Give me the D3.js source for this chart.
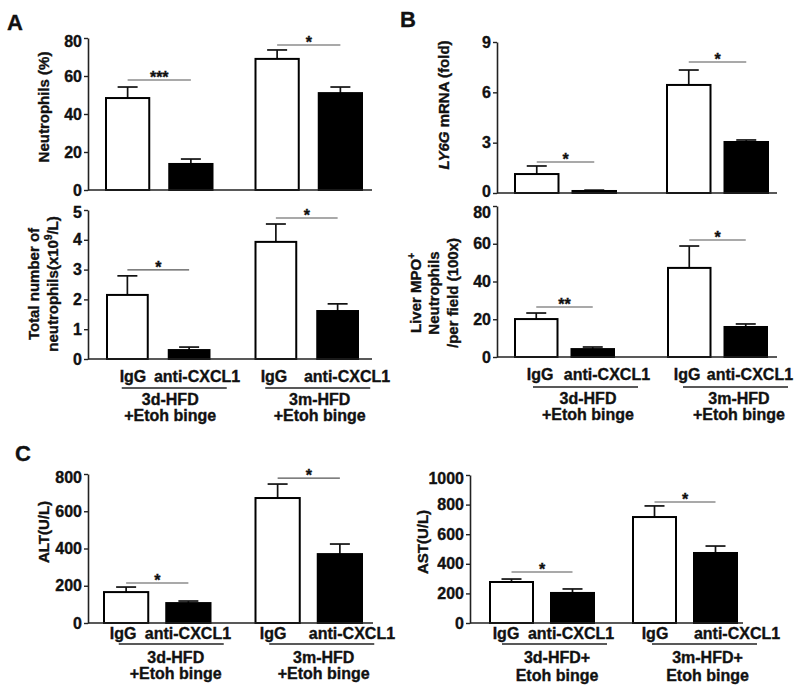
<!DOCTYPE html>
<html>
<head>
<meta charset="utf-8">
<script src="https://cdn.jsdelivr.net/npm/d3@7"></script>
<style>
  html, body { margin: 0; padding: 0; background: #fff; }
  svg { display: block; }
  text { font-family: "Liberation Sans", Arial, Helvetica, sans-serif; font-weight: bold; fill: #111; stroke: #111; stroke-width: 0.35px; }
</style>
</head>
<body>
<svg id="chart" width="800" height="692"></svg>
<script>
// ---------------- DATA ----------------
const conditions = ["IgG", "anti-CXCL1"];
const groupLabelsPlus = [["3d-HFD", "+Etoh binge"], ["3m-HFD", "+Etoh binge"]];
const groupLabelsAST = [["3d-HFD+", "Etoh binge"], ["3m-HFD+", "Etoh binge"]];

// order: [3d IgG, 3d anti-CXCL1, 3m IgG, 3m anti-CXCL1]
const neutroPctMean = [48.4, 13.7, 69.0, 51.0];
const neutroPctSem  = [5.8, 2.6, 4.7, 3.2];
const neutroCntMean = [2.15, 0.30, 3.93, 1.61];
const neutroCntSem  = [0.64, 0.10, 0.60, 0.24];
const ly6gMean = [1.13, 0.12, 6.44, 3.04];
const ly6gSem  = [0.48, 0.05, 0.89, 0.12];
const mpoMean = [20.1, 4.2, 47.2, 15.9];
const mpoSem  = [3.2, 1.1, 11.6, 1.6];
const altMean = [166, 107, 671, 370];
const altSem  = [27, 11, 75, 54];
const astMean = [277, 203, 716, 473];
const astSem  = [20, 27, 75, 47];

// significance markers: [group 3d, group 3m]
const neutroPctSig = ["***", "*"];  const neutroPctSigY = [57.9, 76.3];
const neutroCntSig = ["*", "*"];    const neutroCntSigY = [2.99, 4.73];
const ly6gSig = ["*", "*"];         const ly6gSigY = [1.85, 7.81];
const mpoSig = ["**", "*"];         const mpoSigY = [26.5, 62];
const altSig = ["*", "*"];          const altSigY = [215, 778];
const astSig = ["*", "*"];          const astSigY = [345, 818];

const neutroPctTicks = [0, 20, 40, 60, 80];
const neutroCntTicks = [0, 1, 2, 3, 4, 5];
const ly6gTicks = [0, 3, 6, 9];
const mpoTicks = [0, 20, 40, 60, 80];
const altTicks = [0, 200, 400, 600, 800];
const astTicks = [0, 200, 400, 600, 800, 1000];

// ---------------- LAYOUT ----------------
const svg = d3.select("#chart");

const panels = [
  { mean: neutroPctMean, sem: neutroPctSem, ticks: neutroPctTicks, sig: neutroPctSig, sigY: neutroPctSigY,
    x0: 88, xEnd: 372, yTop: 38, yBot: 190, L: 106, R: 362, gGap: 43, iGap: 20, topLabelDy: 3, zeroLabelDy: 0,
    title: { lines: [["Neutrophils (%)"]], cx: [43], cy: 107 } },
  { mean: neutroCntMean, sem: neutroCntSem, ticks: neutroCntTicks, sig: neutroCntSig, sigY: neutroCntSigY,
    x0: 88, xEnd: 372, yTop: 210, yBot: 359, L: 107, R: 358, gGap: 46, iGap: 21, topLabelDy: 2, zeroLabelDy: 0,
    labels: { dx: [5.6, 7.9, -1.9, 9.4], dy: 23, ulShift: [16, 11], ulDy: 29, grpDx: [12, 13], l1: 45.5, l2: 62, groups: groupLabelsPlus },
    title: { lines: [["Total number of"], ["neutrophils(x10", {sup: "9"}, "/L)"]], cx: [33, 52], cy: 284 } },
  { mean: ly6gMean, sem: ly6gSem, ticks: ly6gTicks, sig: ly6gSig, sigY: ly6gSigY,
    x0: 497, xEnd: 777, yTop: 42, yBot: 193, L: 515, R: 768, gGap: 51, iGap: 14, topLabelDy: 0, zeroLabelDy: -2,
    title: { lines: [[{it: "LY6G"}, " mRNA (fold)"]], cx: [443], cy: 105 } },
  { mean: mpoMean, sem: mpoSem, ticks: mpoTicks, sig: mpoSig, sigY: mpoSigY,
    x0: 497, xEnd: 777, yTop: 206, yBot: 357, L: 515, R: 767, gGap: 54, iGap: 14, topLabelDy: 6, zeroLabelDy: 0,
    labels: { dx: [3.8, 14.2, -2.2, 4.2], dy: 23, ulShift: [21, 18], ulDy: 30, grpDx: [23.5, 21.5], l1: 46.5, l2: 63, groups: groupLabelsPlus },
    title: { lines: [["Liver MPO", {sup: "+"}], ["Neutrophils"], ["/per field (100x)"]], cx: [415, 433, 452], cy: 293 } },
  { mean: altMean, sem: altSem, ticks: altTicks, sig: altSig, sigY: altSigY,
    x0: 88, xEnd: 373, yTop: 474, yBot: 623, L: 104, R: 362, gGap: 45, iGap: 18, topLabelDy: 3, zeroLabelDy: 0,
    labels: { dx: [-3.1, -0.4, -4.6, 12.1], dy: 16, ulShift: [14, 13], ulDy: 21, grpDx: [18.5, 15], l1: 40, l2: 56, groups: groupLabelsPlus },
    title: { lines: [["ALT(U/L)"]], cx: [43], cy: 532 } },
  { mean: astMean, sem: astSem, ticks: astTicks, sig: astSig, sigY: astSigY,
    x0: 470, xEnd: 743, yTop: 475, yBot: 623, L: 490, R: 737, gGap: 39, iGap: 18, topLabelDy: 3, zeroLabelDy: 0,
    labels: { dx: [-5.5, -1.5, 0.5, 21.5], dy: 16, ulShift: [12.5, 19.5], ulDy: 21, grpDx: [15, 22.5], l1: 40, l2: 58, groups: groupLabelsAST },
    title: { lines: [["AST(U/L)"]], cx: [422], cy: 542 } }
];

const FONT = 15;
const LFONT = 16;

function addRich(textSel, parts) {
  let afterSup = false;
  parts.forEach(p => {
    let ts;
    if (typeof p === "string") {
      ts = textSel.append("tspan").text(p);
      if (afterSup) ts.attr("dy", 6);
      afterSup = false;
    } else if (p.sup) {
      textSel.append("tspan").attr("font-size", 10).attr("dy", -6).text(p.sup);
      afterSup = true;
    } else if (p.it) {
      ts = textSel.append("tspan").attr("font-style", "italic").text(p.it);
      if (afterSup) ts.attr("dy", 6);
      afterSup = false;
    }
  });
}

function drawPanel(cfg) {
  const g = svg.append("g");
  const maxTick = cfg.ticks[cfg.ticks.length - 1];
  const y = d3.scaleLinear().domain([0, maxTick]).range([cfg.yBot, cfg.yTop]);
  const W = cfg.R - cfg.L;
  const pG = 2 * cfg.gGap / (W + cfg.gGap);
  const xg = d3.scaleBand().domain([0, 1]).range([cfg.L, cfg.R]).paddingInner(pG).paddingOuter(0);
  const Wg = xg.bandwidth();
  const pI = 2 * cfg.iGap / (Wg + cfg.iGap);
  const xi = d3.scaleBand().domain(conditions).range([0, Wg]).paddingInner(pI).paddingOuter(0);
  const bw = xi.bandwidth();

  const bars = cfg.mean.map((m, i) => {
    const gi = Math.floor(i / 2), ci = i % 2;
    const x = xg(gi) + xi(conditions[ci]);
    return { i, gi, ci, x, cx: x + bw / 2, mean: m, sem: cfg.sem[i] };
  });

  const capW = 20;
  g.selectAll(".err").data(bars).join("line")
    .attr("x1", d => d.cx).attr("x2", d => d.cx)
    .attr("y1", d => y(d.mean)).attr("y2", d => y(d.mean + d.sem))
    .attr("stroke", "#111").attr("stroke-width", 1.7);
  g.selectAll(".cap").data(bars).join("line")
    .attr("x1", d => d.cx - capW / 2).attr("x2", d => d.cx + capW / 2)
    .attr("y1", d => y(d.mean + d.sem)).attr("y2", d => y(d.mean + d.sem))
    .attr("stroke", "#111").attr("stroke-width", 1.7);

  g.selectAll(".bar").data(bars).join("rect")
    .attr("x", d => d.x).attr("width", bw)
    .attr("y", d => y(d.mean)).attr("height", d => y(0) - y(d.mean))
    .attr("fill", d => d.ci === 0 ? "#fff" : "#000")
    .attr("stroke", "#000").attr("stroke-width", 2);

  const ax = g.append("g").attr("transform", `translate(${cfg.x0},0)`)
    .call(d3.axisLeft(y).tickValues(cfg.ticks).tickSize(4).tickSizeOuter(0).tickPadding(2).tickFormat(d3.format("d")));
  ax.select(".domain").attr("stroke", "#222").attr("stroke-width", 1.6);
  ax.selectAll(".tick line").attr("stroke", "#222").attr("stroke-width", 1.4);
  ax.selectAll(".tick text").attr("font-size", LFONT).attr("fill", "#111")
    .attr("transform", d => d === maxTick ? `translate(0,${cfg.topLabelDy})` : (d === 0 ? `translate(0,${cfg.zeroLabelDy})` : null));

  g.append("line").attr("x1", cfg.x0).attr("x2", cfg.xEnd).attr("y1", y(0)).attr("y2", y(0))
    .attr("stroke", "#222").attr("stroke-width", 1.6);

  [0, 1].forEach(gi => {
    const a = bars[gi * 2].cx, b = bars[gi * 2 + 1].cx, yy = y(cfg.sigY[gi]);
    g.append("line").attr("x1", a).attr("x2", b).attr("y1", yy).attr("y2", yy)
      .attr("stroke", "#555").attr("stroke-width", 1.1);
    g.append("text").attr("x", (a + b) / 2).attr("y", yy + 3).attr("text-anchor", "middle")
      .attr("font-size", LFONT).text(cfg.sig[gi]);
  });

  if (cfg.labels) {
    const lb = cfg.labels, base = y(0);
    bars.forEach(d => {
      g.append("text").attr("x", d.cx + lb.dx[d.i]).attr("y", base + lb.dy)
        .attr("text-anchor", "middle").attr("font-size", LFONT).text(conditions[d.ci]);
    });
    [0, 1].forEach(gi => {
      const gc = xg(gi) + Wg / 2;
      const uc = gc + lb.ulShift[gi];
      g.append("line").attr("x1", uc - 52.5).attr("x2", uc + 52.5)
        .attr("y1", base + lb.ulDy).attr("y2", base + lb.ulDy)
        .attr("stroke", "#222").attr("stroke-width", 1.5);
      const tc = gc + lb.grpDx[gi];
      g.append("text").attr("x", tc).attr("y", base + lb.l1).attr("text-anchor", "middle")
        .attr("font-size", LFONT).text(lb.groups[gi][0]);
      g.append("text").attr("x", tc).attr("y", base + lb.l2).attr("text-anchor", "middle")
        .attr("font-size", LFONT).text(lb.groups[gi][1]);
    });
  }

  cfg.title.lines.forEach((parts, k) => {
    const t = g.append("text")
      .attr("transform", `translate(${cfg.title.cx[k] + 5.5},${cfg.title.cy}) rotate(-90)`)
      .attr("text-anchor", "middle").attr("font-size", FONT);
    addRich(t, parts);
  });
}

panels.forEach(drawPanel);

const letters = [["A", 7, 30], ["B", 400, 27], ["C", 15, 461]];
svg.selectAll(".letter").data(letters).join("text")
  .attr("x", d => d[1]).attr("y", d => d[2]).attr("font-size", 22).text(d => d[0]);
</script>
</body>
</html>
